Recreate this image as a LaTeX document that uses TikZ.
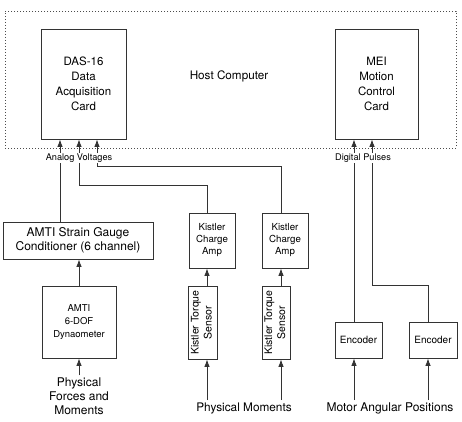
\documentclass[tikz,border=0pt]{standalone}
\usepackage{fontspec}
\setmainfont{TeX Gyre Heros}
\usepackage{graphicx}
\usetikzlibrary{arrows.meta}
\begin{document}
\begin{tikzpicture}[x=1pt,y=-1pt,
        box/.style={draw=black!80,line width=0.8pt,align=center,inner sep=1pt},
        sig/.style={draw=black!80,line width=0.8pt,-{Latex[length=7.5pt,width=5.5pt]}},
        lbl/.style={align=center,inner sep=2pt}]
                \useasboundingbox (0,0) rectangle (462,421);

                % host computer
                \node(host) [draw=black!70,line width=0.8pt,dash pattern=on 0.8pt off 2.2pt,
                        minimum width=451pt,minimum height=137pt] at (230.5,79.5) {};
                \node(hostlbl) [lbl,font=\fontsize{11.7}{14}\selectfont] at (229,76) {Host Computer};
                \node(das) [box,minimum width=85pt,minimum height=110pt,font=\fontsize{11.5}{15}\selectfont]
                        at (83.5,84) {DAS-16\\Data\\Acquisition\\Card};
                \node(mei) [box,minimum width=83pt,minimum height=110pt,font=\fontsize{11.5}{15}\selectfont]
                        at (376.5,84) {MEI\\Motion\\Control\\Card};

                % sensors
                \node(cond) [box,minimum width=150pt,minimum height=37pt,font=\fontsize{12}{14}\selectfont]
                        at (78,240.5) {AMTI Strain Gauge\\Conditioner (6 channel)};
                \node(dyn) [box,minimum width=74pt,minimum height=72pt,font=\fontsize{9.5}{13}\selectfont]
                        at (79,322) {AMTI\\6-DOF\\Dynaometer};
                \node(amp1) [box,minimum width=46pt,minimum height=55pt,font=\fontsize{9.7}{12}\selectfont]
                        at (212,240.5) {Kistler\\Charge\\Amp};
                \node(amp2) [box,minimum width=46pt,minimum height=55pt,font=\fontsize{9.7}{12}\selectfont]
                        at (285,240.5) {Kistler\\Charge\\Amp};
                \node(sen1) [box,minimum width=29pt,minimum height=73pt,font=\fontsize{10.5}{13}\selectfont]
                        at (202.5,322.5) {\rotatebox{90}{\begin{tabular}{@{}c@{}}Kistler Torque\\Sensor\end{tabular}}};
                \node(sen2) [box,minimum width=28pt,minimum height=73pt,font=\fontsize{10.5}{13}\selectfont]
                        at (276,322.5) {\rotatebox{90}{\begin{tabular}{@{}c@{}}Kistler Torque\\Sensor\end{tabular}}};
                \node(enc1) [box,minimum width=47pt,minimum height=36pt,font=\fontsize{10}{12}\selectfont]
                        at (358.5,340) {Encoder};
                \node(enc2) [box,minimum width=48pt,minimum height=36pt,font=\fontsize{10}{12}\selectfont]
                        at (433,340) {Encoder};

                % inputs
                \node(forces) [lbl,font=\fontsize{12}{14}\selectfont] at (79,396) {Physical\\Forces and\\Moments};
                \node(moments) [lbl,font=\fontsize{11.8}{14}\selectfont] at (244,408) {Physical Moments};
                \node(motor) [lbl,font=\fontsize{12}{14}\selectfont] at (390,408) {Motor Angular Positions};

                % lanes
                \coordinate(a1) at (60,0);
                \coordinate(a2) at (79,0);
                \coordinate(a3) at (97,0);
                \coordinate(k1) at (207,0);
                \coordinate(k2) at (281,0);
                \coordinate(d1) at (354,0);
                \coordinate(d2) at (372,0);
                \coordinate(e2) at (428,0);

                \draw[sig] (cond.north -| a1) -- (das.south -| a1);
                \draw[sig] (amp1.north -| k1) -- ++(0,-27) -| (das.south -| a2);
                \draw[sig] (amp2.north -| k2) -- ++(0,-46) -| (das.south -| a3);
                \draw[sig] (enc1.north -| d1) -- (mei.south -| d1);
                \draw[sig] (enc2.north -| e2) -- ++(0,-36) -| (mei.south -| d2);

                \draw[sig] (dyn.north) -- (cond.south -| dyn.north);
                \draw[sig] (sen1.north -| k1) -- (amp1.south -| k1);
                \draw[sig] (sen2.north -| k2) -- (amp2.south -| k2);

                \draw[sig] (forces.north) -- (dyn.south -| forces.north);
                \draw[sig] (moments.north -| k1) -- (sen1.south -| k1);
                \draw[sig] (moments.north -| k2) -- (sen2.south -| k2);
                \draw[sig] (motor.north -| d1) -- (enc1.south -| d1);
                \draw[sig] (motor.north -| e2) -- (enc2.south -| e2);

                % bus labels over the lines
                \node(analog) [lbl,fill=white,inner sep=0.5pt,font=\fontsize{9.2}{11}\selectfont] at (79,158) {Analog Voltages};
                \node(digital) [lbl,fill=white,inner sep=0.5pt,font=\fontsize{9.2}{11}\selectfont] at (363,158) {Digital Pulses};
\end{tikzpicture}
\end{document}
